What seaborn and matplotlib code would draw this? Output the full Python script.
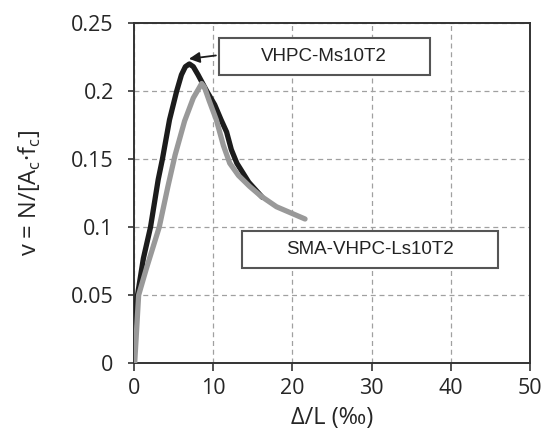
import numpy as np
import pandas as pd
import seaborn as sns
import matplotlib.pyplot as plt
from matplotlib.patches import Rectangle

# VHPC-Ms10T2 (black)
ms_drift = [0, 0.46, 1.2, 2.1, 3.07, 3.6, 4.5, 5.4, 6.0, 6.5, 7.0, 7.5, 8.1, 9.2, 10.2, 11.0, 11.7, 12.3, 13.0, 14.5, 16.2]
ms_v = [0.030, 0.050, 0.077, 0.100, 0.135, 0.150, 0.179, 0.200, 0.212, 0.218, 0.220, 0.218, 0.212, 0.200, 0.190, 0.179, 0.170, 0.157, 0.147, 0.133, 0.122]

# SMA-VHPC-Ls10T2 (grey)
ls_drift = [0.1, 0.6, 1.6, 3.2, 4.3, 5.2, 6.4, 7.5, 8.2, 8.55, 8.9, 9.5, 10.4, 11.3, 12.1, 13.2, 14.6, 16.0, 18.0, 20.0, 21.6]
ls_v = [0.0, 0.050, 0.070, 0.100, 0.130, 0.153, 0.178, 0.195, 0.202, 0.2056, 0.203, 0.193, 0.179, 0.160, 0.147, 0.138, 0.130, 0.123, 0.115, 0.110, 0.106]

x_ticks = [0, 10, 20, 30, 40, 50]
y_ticks = [0, 0.05, 0.1, 0.15, 0.2, 0.25]
y_tick_labels = ['0', '0.05', '0.1', '0.15', '0.2', '0.25']

sns.set_style("white")
plt.rcParams['font.family'] = ['Open Sans', 'DejaVu Sans']
plt.rcParams['mathtext.fontset'] = 'custom'
plt.rcParams['mathtext.rm'] = 'Open Sans'

ms = pd.DataFrame({'drift': ms_drift, 'v': ms_v})
ls = pd.DataFrame({'drift': ls_drift, 'v': ls_v})

fig = plt.figure(figsize=(5.42, 4.37), dpi=100)
ax = fig.add_axes([0.247, 0.169, 0.731, 0.778])

sns.lineplot(data=ms, x='drift', y='v', sort=False, color='#1c1c1c', linewidth=3.8,
             solid_capstyle='round', solid_joinstyle='round', ax=ax, zorder=3)
sns.lineplot(data=ls, x='drift', y='v', sort=False, color='#999999', linewidth=3.8,
             solid_capstyle='round', solid_joinstyle='round', ax=ax, zorder=4)

ax.set_xlim(0, 50)
ax.set_ylim(0, 0.25)
ax.set_xticks(x_ticks)
ax.set_yticks(y_ticks)
ax.set_yticklabels(y_tick_labels)
ax.grid(True, color='#a0a0a0', linestyle=(0, (4, 3)), linewidth=0.9)
ax.set_axisbelow(True)

for s in ax.spines.values():
    s.set_color('#333333')
    s.set_linewidth(1.4)

ax.tick_params(axis='x', direction='out', length=6, width=1.2, color='#333333',
               labelsize=15.5, pad=5, bottom=True)
ax.tick_params(axis='y', direction='out', length=4.5, width=1.2, color='#333333',
               labelsize=15.5, pad=10, left=True)

ax.set_xlabel('Δ/L (‰)', fontsize=17, labelpad=5)
ax.set_ylabel(r'v = N/[A$_\mathregular{c}$·f$_\mathregular{c}$]', fontsize=17, labelpad=20)

# label boxes
ax.add_patch(Rectangle((10.7, 0.212), 26.7, 0.027, fill=True, facecolor='white',
                       edgecolor='#555555', linewidth=1.5, zorder=5))
ax.text(24.0, 0.2255, 'VHPC-Ms10T2', family='Liberation Sans', fontsize=13.5,
        ha='center', va='center', color='#222222', zorder=6)
ax.annotate('', xy=(6.6, 0.2235), xytext=(10.7, 0.2265),
            arrowprops=dict(arrowstyle='-|>', color='#1c1c1c', lw=1.3, mutation_scale=16),
            zorder=6)

ax.add_patch(Rectangle((13.6, 0.070), 32.4, 0.027, fill=True, facecolor='white',
                       edgecolor='#555555', linewidth=1.5, zorder=5))
ax.text(29.8, 0.0835, 'SMA-VHPC-Ls10T2', family='Liberation Sans', fontsize=13.5,
        ha='center', va='center', color='#222222', zorder=6)

fig.savefig('out.png', dpi=100)
plt.close()
